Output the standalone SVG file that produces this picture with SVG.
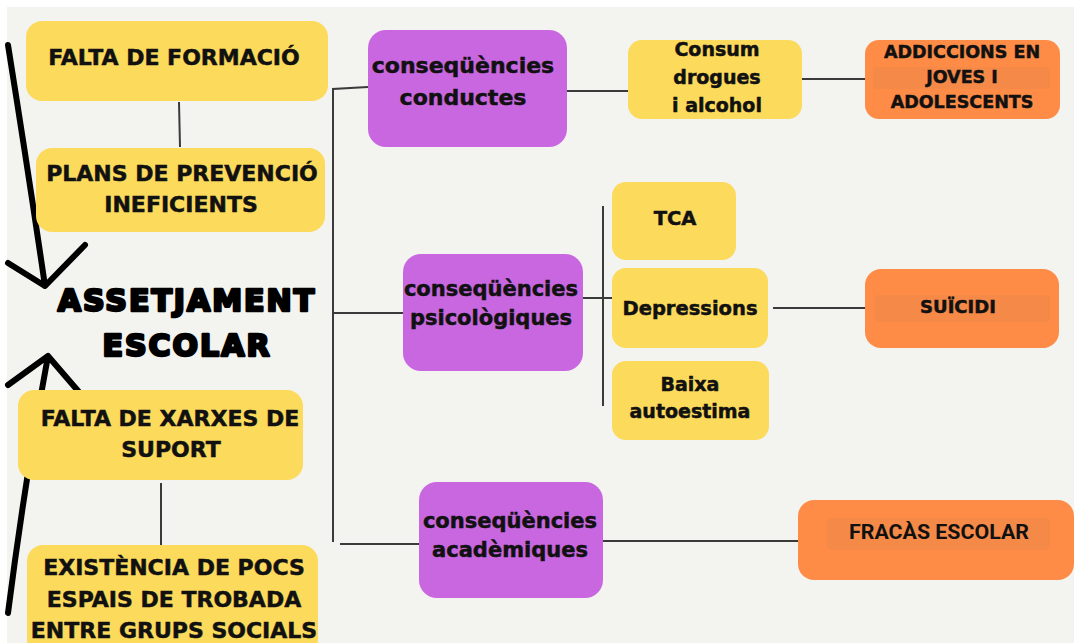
<svg xmlns="http://www.w3.org/2000/svg" width="1074" height="643" viewBox="0 0 1074 643">
<style>
.bg{fill:#f3f3ef}
.y{fill:#fcda5c}
.p{fill:#c967e1}
.o{fill:#fe8c47}
.band{fill:#ef874a;opacity:.6}
.t{font-family:"DejaVu Sans",sans-serif;font-weight:bold;fill:#111;stroke:#111;stroke-width:0.5;text-anchor:middle}
.big{font-family:"DejaVu Sans",sans-serif;font-weight:bold;fill:#000;stroke:#000;stroke-width:2.6;stroke-linejoin:round;text-anchor:middle;font-size:30px;letter-spacing:2px}
.cond{font-family:Roboto,sans-serif;font-weight:bold;fill:#111;text-anchor:middle;font-size:20px}
.ln{stroke:#3a3a3a;stroke-width:2;fill:none}
.arr{stroke:#000;stroke-width:6;fill:none;stroke-linecap:round;stroke-linejoin:round}
</style>
<rect width="1074" height="643" fill="#fff"/>
<rect class="bg" x="7" y="7" width="1067" height="636"/>

<g id="connectors">
<line class="ln" x1="179" y1="102" x2="180" y2="147"/>
<line class="ln" x1="161" y1="483" x2="161" y2="545"/>
<polyline class="ln" points="368,87 333,89 333,542"/>
<line class="ln" x1="333" y1="313" x2="403" y2="313"/>
<line class="ln" x1="340" y1="544" x2="419" y2="544"/>
<line class="ln" x1="567" y1="91" x2="628" y2="91"/>
<line class="ln" x1="802" y1="79" x2="865" y2="79"/>
<line class="ln" x1="583" y1="298" x2="612" y2="298"/>
<line class="ln" x1="603" y1="206" x2="603" y2="406"/>
<line class="ln" x1="773" y1="308" x2="865" y2="308"/>
<line class="ln" x1="603" y1="541" x2="798" y2="541"/>
<path class="arr" d="M8,45 Q28,170 45,286 M8,263 L45,286 L85,245"/>
<path class="arr" d="M8,613 Q25,480 48,356 M8,385 L48,356 L79,392"/>
</g>

<g id="n-formacio">
<rect class="y" x="26" y="21" width="302" height="80" rx="16"/>
<text class="t" x="174" y="65" font-size="22">FALTA DE FORMACIÓ</text>
</g>
<g id="n-plans">
<rect class="y" x="36" y="148" width="289" height="84" rx="16"/>
<text class="t" x="182" y="181" font-size="22">PLANS DE PREVENCIÓ</text>
<text class="t" x="181" y="212" font-size="22">INEFICIENTS</text>
</g>
<g id="n-assetjament">
<text class="big" x="187" y="311">ASSETJAMENT</text>
<text class="big" x="187" y="356">ESCOLAR</text>
</g>
<g id="n-xarxes">
<rect class="y" x="18" y="390" width="285" height="90" rx="16"/>
<text class="t" x="170" y="426" font-size="22">FALTA DE XARXES DE</text>
<text class="t" x="171" y="457" font-size="22">SUPORT</text>
</g>
<g id="n-espais">
<rect class="y" x="27" y="545" width="291" height="110" rx="16"/>
<text class="t" x="174" y="575" font-size="22">EXISTÈNCIA DE POCS</text>
<text class="t" x="174" y="607" font-size="22">ESPAIS DE TROBADA</text>
<text class="t" x="174" y="638" font-size="22">ENTRE GRUPS SOCIALS</text>
</g>

<g id="n-conductes">
<rect class="p" x="368" y="30" width="199" height="117" rx="18"/>
<text class="t" x="463" y="73" font-size="22">conseqüències</text>
<text class="t" x="463" y="105" font-size="22">conductes</text>
</g>
<g id="n-psicologiques">
<rect class="p" x="403" y="254" width="180" height="117" rx="18"/>
<text class="t" x="491" y="296" font-size="21">conseqüències</text>
<text class="t" x="491" y="325" font-size="21">psicològiques</text>
</g>
<g id="n-academiques">
<rect class="p" x="419" y="482" width="184" height="116" rx="18"/>
<text class="t" x="510" y="528" font-size="21">conseqüències</text>
<text class="t" x="510" y="557" font-size="21">acadèmiques</text>
</g>

<g id="n-consum">
<rect class="y" x="628" y="40" width="174" height="79" rx="14"/>
<text class="t" x="717" y="56" font-size="19">Consum</text>
<text class="t" x="717" y="84" font-size="19">drogues</text>
<text class="t" x="717" y="112" font-size="19">i alcohol</text>
</g>
<g id="n-addiccions">
<rect class="o" x="865" y="40" width="195" height="79" rx="14"/>
<rect class="band" x="873" y="67" width="177" height="22" rx="4"/>
<text class="t" x="962" y="58" font-size="17.5">ADDICCIONS EN</text>
<text class="t" x="962" y="83" font-size="17.5">JOVES I</text>
<text class="t" x="962" y="108" font-size="17.5">ADOLESCENTS</text>
</g>
<g id="n-tca">
<rect class="y" x="612" y="182" width="124" height="78" rx="14"/>
<text class="t" x="675" y="225" font-size="19.5">TCA</text>
</g>
<g id="n-depressions">
<rect class="y" x="612" y="268" width="156" height="80" rx="14"/>
<text class="t" x="690" y="315" font-size="19.5">Depressions</text>
</g>
<g id="n-baixa">
<rect class="y" x="612" y="361" width="157" height="79" rx="14"/>
<text class="t" x="690" y="391" font-size="19">Baixa</text>
<text class="t" x="690" y="418" font-size="19">autoestima</text>
</g>
<g id="n-suicidi">
<rect class="o" x="865" y="269" width="194" height="79" rx="16"/>
<rect class="band" x="875" y="295" width="175" height="27" rx="4"/>
<text class="t" x="958" y="313" font-size="18">SUÏCIDI</text>
</g>
<g id="n-fracas">
<rect class="o" x="798" y="500" width="276" height="80" rx="16"/>
<rect class="band" x="827" y="518" width="223" height="32" rx="5"/>
<text class="cond" x="939" y="539" textLength="180" lengthAdjust="spacingAndGlyphs">FRACÀS ESCOLAR</text>
</g>
</svg>
